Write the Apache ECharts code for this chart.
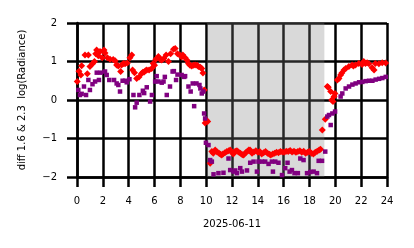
<!DOCTYPE html>
<html>
<head>
<meta charset="utf-8">
<script src="https://cdn.jsdelivr.net/npm/echarts@6/dist/echarts.min.js"></script>
<style>html,body{margin:0;padding:0;background:#fff;}#c{width:414px;height:248px;}</style>
</head>
<body>
<div id="c"></div>
<script>
// hours since 00:00 UTC, 2025-06-11
const dateLabel = '2025-06-11';
const yAxisTitle = 'diff 1.6 & 2.3  log(Radiance)';
const xTicks = [0, 2, 4, 6, 8, 10, 12, 14, 16, 18, 20, 22, 24];
const yTicks = [-2, -1, 0, 1, 2];
const shadeStart = 10.05;
const shadeEnd = 19.15;

// red diamonds
const redHours = [
  0.02,0.15,0.3,0.36,0.62,0.8,0.88,1.0,1.2,1.35,1.45,1.52,1.65,1.78,1.95,2.09,2.17,2.35,2.56,2.8,2.95,3.07,3.2,3.38,3.45,3.6,3.72,3.9,4.1,4.24,4.3,4.45,4.62,4.8,5.0,5.1,5.2,5.3,5.4,5.58,5.78,5.9,6.0,6.1,6.3,6.45,6.56,6.72,6.9,7.08,7.25,7.47,7.6,7.78,7.97,8.1,8.19,8.37,8.5,8.63,8.75,8.88,9.0,9.14,9.3,9.4,9.55,9.66,9.75,9.85,9.92,10.0,10.12,
  10.31,10.44,10.55,10.7,10.85,11.0,11.1,11.2,11.3,11.45,11.6,11.75,11.86,12.0,12.1,12.25,12.38,12.5,12.65,12.8,12.9,13.05,13.2,13.3,13.4,13.55,13.7,13.85,14.0,14.15,14.3,14.45,14.6,14.75,14.9,15.0,15.15,15.3,15.45,15.6,15.75,15.9,16.05,16.2,16.35,16.5,16.65,16.8,16.95,17.1,17.25,17.4,17.55,17.7,17.85,18.0,18.15,18.3,18.45,18.6,18.75,18.85,
  18.99,19.22,19.38,19.45,19.64,19.72,19.82,19.9,19.97,20.16,20.28,20.41,20.5,20.67,20.8,21.05,21.3,21.4,21.56,21.82,22.07,22.2,22.33,22.46,22.6,22.85,23.0,23.1,23.37,23.63,23.9
];
const redValues = [
  0.48,0.75,0.65,0.89,1.17,0.68,1.17,0.87,0.94,1.0,1.2,1.3,1.15,1.26,1.1,1.3,1.22,1.1,1.06,1.05,1.02,0.91,0.88,0.74,0.91,0.95,0.94,0.96,1.1,1.17,0.78,0.71,0.56,0.6,0.69,0.72,0.73,0.76,0.78,0.78,0.82,0.95,0.9,1.06,1.13,1.05,1.04,1.08,1.17,1.0,1.2,1.32,1.34,1.2,1.17,1.12,1.17,1.1,1.04,0.95,0.9,0.88,0.9,0.91,0.9,0.87,0.85,0.82,0.7,0.26,-0.6,-0.52,-0.56,
  -1.64,-1.34,-1.38,-1.3,-1.35,-1.38,-1.41,-1.43,-1.4,-1.37,-1.34,-1.32,-1.3,-1.36,-1.4,-1.33,-1.32,-1.35,-1.38,-1.42,-1.43,-1.37,-1.33,-1.3,-1.3,-1.38,-1.35,-1.32,-1.36,-1.34,-1.4,-1.37,-1.34,-1.38,-1.41,-1.43,-1.4,-1.38,-1.36,-1.37,-1.34,-1.35,-1.36,-1.33,-1.34,-1.31,-1.35,-1.33,-1.36,-1.34,-1.32,-1.36,-1.33,-1.38,-1.36,-1.34,-1.38,-1.4,-1.36,-1.33,-1.3,-1.28,
  -0.78,-0.5,0.35,0.33,0.22,0.0,-0.04,0.09,0.17,0.52,0.56,0.65,0.7,0.78,0.82,0.87,0.91,0.88,0.91,0.95,0.92,1.0,0.95,0.97,0.94,0.84,0.78,0.95,0.94,0.97,0.96
];

// purple squares
const purpleHours = [
  0.1,0.23,0.36,0.54,0.7,0.88,1.0,1.2,1.4,1.53,1.7,1.84,2.17,2.3,2.5,2.87,3.07,3.2,3.33,3.53,3.72,3.85,4.06,4.37,4.5,4.62,4.83,5.1,5.2,5.4,5.66,5.8,6.05,6.17,6.3,6.56,6.7,6.8,6.95,7.2,7.4,7.5,7.67,7.78,8.1,8.3,8.37,8.63,8.8,8.96,9.07,9.25,9.48,9.55,9.66,9.79,9.84,9.92,
  9.98,10.18,10.31,10.44,10.57,10.95,11.34,11.73,11.86,12.12,12.25,12.38,12.64,12.77,13.16,13.41,13.67,13.93,14.05,14.32,14.57,14.83,15.09,15.17,15.35,15.6,15.87,16.12,16.3,16.46,16.64,16.84,17.1,17.29,17.54,17.81,18.06,18.32,18.58,18.71,18.97,19.22,
  19.38,19.51,19.64,19.77,19.98,20.41,20.54,20.8,21.06,21.32,21.57,21.84,22.09,22.35,22.61,22.87,23.12,23.39,23.64,23.9
];
const purpleValues = [
  0.26,0.13,0.16,0.35,0.13,0.52,0.26,0.41,0.48,0.71,0.52,0.71,0.74,0.65,0.52,0.52,0.43,0.39,0.22,0.5,0.5,0.46,0.54,0.13,-0.19,-0.07,0.13,0.24,0.18,0.33,-0.04,0.13,0.48,0.62,0.48,0.45,0.48,0.6,0.13,0.35,0.74,0.75,0.52,0.66,0.65,0.6,0.62,0.35,0.22,0.43,-0.16,0.43,0.39,0.3,0.17,0.22,-0.35,-0.48,
  -1.11,-1.17,-1.56,-1.6,-1.93,-1.9,-1.89,-1.52,-1.82,-1.86,-1.83,-1.9,-1.77,-1.86,-1.83,-1.63,-1.6,-1.86,-1.6,-1.6,-1.6,-1.66,-1.6,-1.86,-1.6,-1.63,-1.95,-1.77,-1.63,-1.86,-1.82,-1.9,-1.9,-1.52,-1.56,-1.9,-1.87,-1.86,-1.9,-1.58,-1.58,-1.34,
  -0.43,-0.39,-0.65,-0.35,-0.3,0.09,0.17,0.3,0.35,0.4,0.43,0.46,0.47,0.49,0.5,0.5,0.53,0.55,0.57,0.6
];

const zip = (a, b) => a.map((h, i) => [h, b[i]]);
const fmt = v => (v < 0 ? '\u2212' + Math.abs(v) : String(v));
const FONT = 'DejaVu Sans';

const chart = echarts.init(document.getElementById('c'), null, { renderer: 'canvas' });
chart.setOption({
  animation: false,
  backgroundColor: '#ffffff',
  grid: { left: 77, right: 27, top: 23, bottom: 71, containLabel: false },
  xAxis: {
    type: 'value', min: xTicks[0], max: xTicks[xTicks.length - 1], interval: 2,
    name: dateLabel, nameLocation: 'middle', nameGap: 42,
    nameTextStyle: { fontFamily: FONT, fontSize: 10, color: '#000' },
    axisLine: { show: true, onZero: false, lineStyle: { color: '#000', width: 2.5 } },
    axisTick: { show: true, length: 10, lineStyle: { color: '#000', width: 2.5 } },
    axisLabel: { margin: 19, fontFamily: FONT, fontSize: 10, color: '#000', formatter: fmt },
    splitLine: { show: true, lineStyle: { color: '#000', width: 2.5 } }
  },
  yAxis: {
    type: 'value', min: yTicks[0], max: yTicks[yTicks.length - 1], interval: 1,
    name: yAxisTitle, nameLocation: 'middle', nameGap: 50,
    nameTextStyle: { fontFamily: FONT, fontSize: 10, color: '#000' },
    axisLine: { show: true, onZero: false, lineStyle: { color: '#000', width: 2.5 } },
    axisTick: { show: true, length: 10, lineStyle: { color: '#000', width: 2.5 } },
    axisLabel: { margin: 20, fontFamily: FONT, fontSize: 10, color: '#000', formatter: fmt },
    splitLine: { show: true, lineStyle: { color: '#000', width: 2.5 } }
  },
  series: [
    {
      type: 'scatter', symbol: 'diamond', symbolSize: 7,
      itemStyle: { color: '#ff0000', opacity: 1 },
      data: zip(redHours, redValues), z: 3
    },
    {
      type: 'scatter', symbol: 'rect', symbolSize: 4.5,
      itemStyle: { color: '#800080', opacity: 1 },
      data: zip(purpleHours, purpleValues), z: 4
    },
    {
      type: 'scatter', data: [], z: 10, silent: true,
      markArea: {
        silent: true,
        itemStyle: { color: 'rgba(128,128,128,0.3)' },
        label: { show: false },
        data: [[{ xAxis: shadeStart }, { xAxis: shadeEnd }]]
      }
    }
  ]
});
</script>
</body>
</html>
